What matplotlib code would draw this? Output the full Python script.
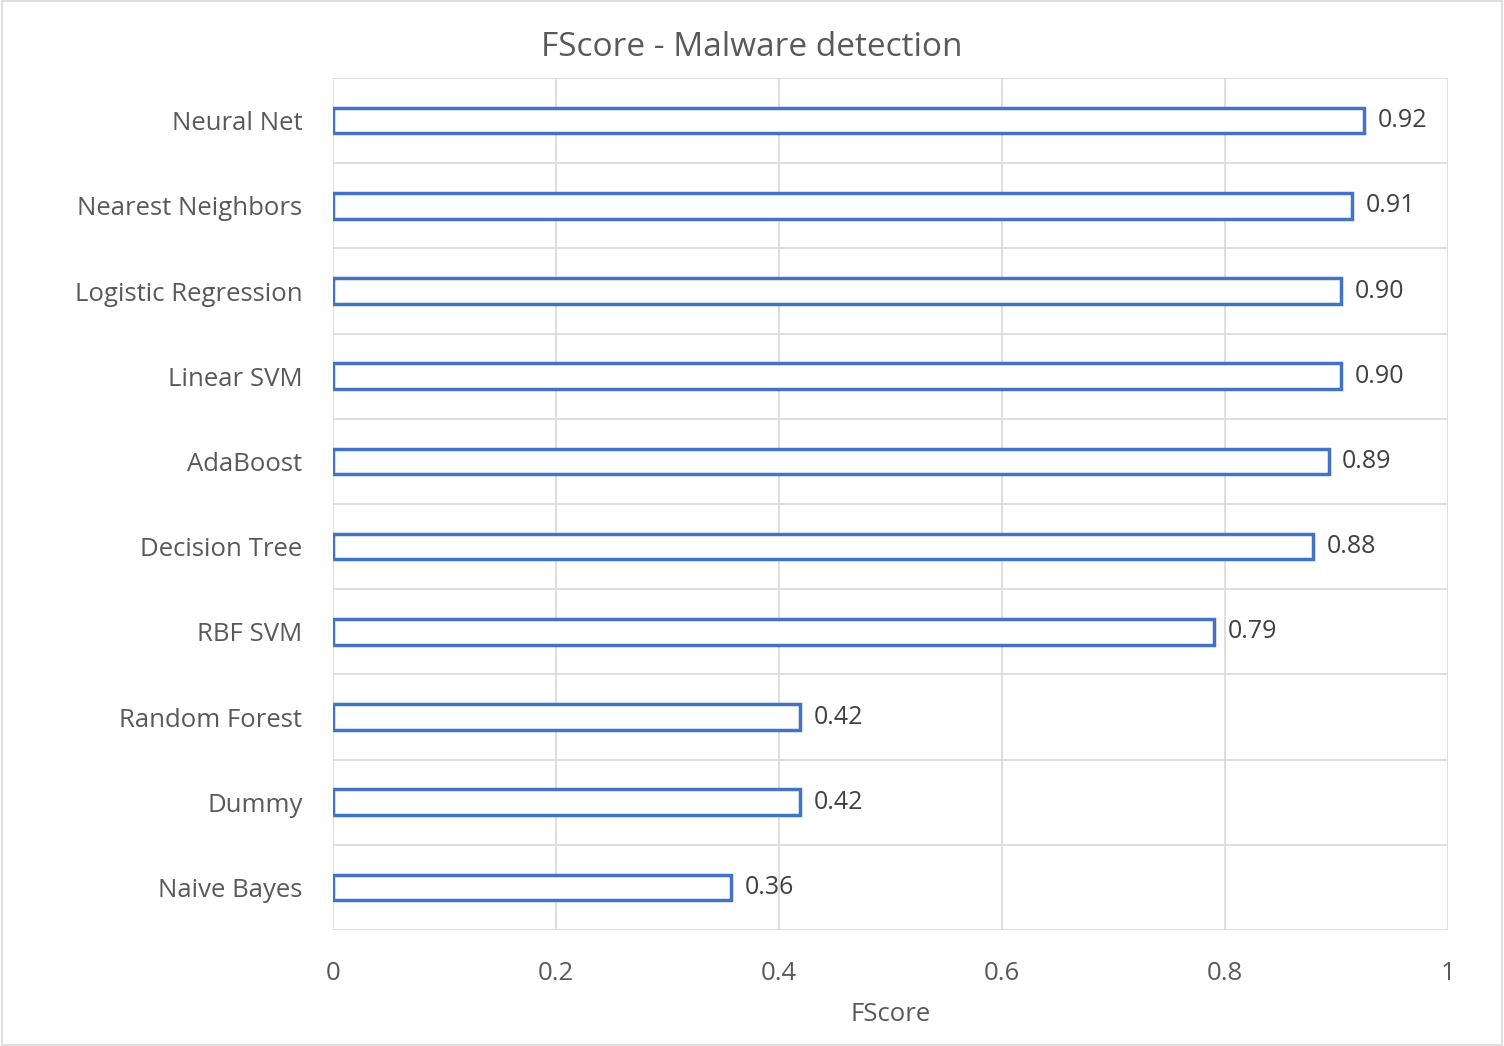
import matplotlib.pyplot as plt
import numpy as np

models = ["Naive Bayes", "Dummy", "Random Forest", "RBF SVM", "Decision Tree",
          "AdaBoost", "Linear SVM", "Logistic Regression", "Nearest Neighbors", "Neural Net"]
fscore = [0.357, 0.419, 0.419, 0.79, 0.879, 0.893, 0.904, 0.904, 0.914, 0.925]
labels = ["0.36", "0.42", "0.42", "0.79", "0.88", "0.89", "0.90", "0.90", "0.91", "0.92"]

plt.rcParams['font.family'] = ['Open Sans', 'DejaVu Sans']
grey = "#595959"

fig = plt.figure(figsize=(15.04, 10.46), dpi=100)
ax = fig.add_axes([0.2214, 0.1109, 0.7414, 0.8145])

y = np.arange(len(models))
ax.barh(y, fscore, height=0.3, color="white", edgecolor="#4472C4", linewidth=2.5, zorder=3)
for yi, v, t in zip(y, fscore, labels):
    ax.text(v + 0.012, yi, t, va="center", ha="left", fontsize=18, color="#404040")

ax.set_xlim(0, 1)
ax.set_ylim(-0.5, len(models) - 0.5)
ax.set_xticks([0, 0.2, 0.4, 0.6, 0.8, 1])
ax.set_xticklabels(["0", "0.2", "0.4", "0.6", "0.8", "1"])
ax.set_yticks(y)
ax.set_yticklabels(models)
ax.set_yticks(np.arange(-0.5, len(models)), minor=True)
ax.tick_params(axis="both", which="both", length=0, labelsize=18.5, labelcolor=grey)
ax.tick_params(axis="x", pad=22)
ax.tick_params(axis="y", pad=22)
ax.grid(axis="x", which="major", color="#D9D9D9", linewidth=1.2, zorder=0)
ax.grid(axis="y", which="minor", color="#D9D9D9", linewidth=1.2, zorder=0)
for s in ax.spines.values():
    s.set_visible(False)
ax.set_xlabel("FScore", fontsize=18.5, color=grey, labelpad=12)
fig.text(0.5, 0.955, "FScore - Malware detection", ha="center", va="center", fontsize=24, color=grey)

fig.patches.append(plt.Rectangle((0.001, 0.001), 0.998, 0.998, transform=fig.transFigure,
                                 fill=False, edgecolor="#D9D9D9", linewidth=1.2))
fig.savefig("out.png", dpi=100)
